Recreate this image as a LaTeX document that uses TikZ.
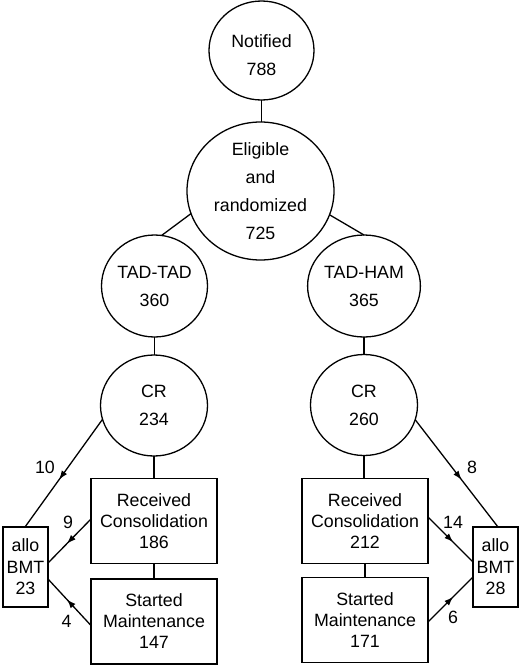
\documentclass[tikz,border=0pt]{standalone}
\usepackage{fontspec}
\setmainfont{Liberation Sans}
\usetikzlibrary{arrows.meta,decorations.markings,calc,shapes.geometric}
\tikzset{
  circ/.style={draw, ellipse, inner sep=0pt, outer sep=0pt, line width=1.3pt, align=center,
    font=\fontsize{17.8pt}{28pt}\selectfont},
  boxn/.style={draw, rectangle, inner sep=0pt, outer sep=0pt, line width=1.3pt, align=center,
    minimum width=126pt, minimum height=85pt, font=\fontsize{17.8pt}{21pt}\selectfont},
  allobox/.style={draw, rectangle, inner sep=0pt, outer sep=0pt, line width=1.3pt, align=center,
    minimum width=45pt, minimum height=80pt, font=\fontsize{17.8pt}{21.5pt}\selectfont},
  conn/.style={line width=1.3pt},
  midarrow/.style={line width=1.3pt, postaction={decorate},
    decoration={markings, mark=at position #1 with {\arrow{Latex[length=9pt,width=6.5pt]}}}},
  midarrow/.default=0.56,
  lbl/.style={inner sep=0pt, font=\fontsize{17.8pt}{21pt}\selectfont}
}
\begin{document}
\begin{tikzpicture}[x=1pt,y=-1pt]
\useasboundingbox (0,0) rectangle (520,665);
% circles
\node[circ, minimum width=105pt, minimum height=99pt] (not) at (261.5,50.5)
  {\raisebox{-5pt}[\height][\depth]{\begin{tabular}{@{}c@{}}Notified\\788\end{tabular}}};
\node[circ, minimum width=147pt, minimum height=138pt] (eli) at (260.5,191) {Eligible\\and\\randomized\\725};
\node[circ, minimum width=106pt, minimum height=102pt] (tt) at (154.5,286) {TAD-TAD\\360};
\node[circ, minimum width=107pt, minimum height=102pt] (th) at (364,286) {TAD-HAM\\365};
\node[circ, minimum width=107pt, minimum height=101pt] (crl) at (154,405.5) {CR\\234};
\node[circ, minimum width=107pt, minimum height=101pt] (crr) at (364,405) {CR\\260};
% boxes
\node[boxn] (rcl) at (154,521) {Received\\Consolidation\\186};
\node[boxn] (stl) at (154,621.5) {Started\\Maintenance\\147};
\node[boxn] (rcr) at (365,521) {Received\\Consolidation\\212};
\node[boxn] (str) at (365,620) {Started\\Maintenance\\171};
\node[allobox] (al) at (25.5,567) {allo\\BMT\\23};
\node[allobox] (ar) at (495.5,567) {allo\\BMT\\28};
% connectors
\draw[conn] (not.south) -- (not.south |- eli.north);
\draw[conn] (eli.198) -- (tt.82);
\draw[conn] (eli.341) -- (th.90);
\draw[conn] (tt.south) -- (tt.south |- crl.north);
\draw[conn] (th.south) -- (th.south |- crr.north);
\draw[conn] (crl.south) -- (crl.south |- rcl.north);
\draw[conn] (rcl.south) -- (rcl.south |- stl.north);
\draw[conn] (crr.south) -- (crr.south |- rcr.north);
\draw[conn] (rcr.south) -- (rcr.south |- str.north);
% arrows to allo BMT
\draw[midarrow] (crl.195) -- ($(al.north)+(-0.5,0)$);
\draw[midarrow] ($(rcl.west)+(0,-2)$) -- ($(al.east)+(0,-4)$);
\draw[midarrow] ($(stl.west)+(0,4)$) -- ($(al.east)+(0,12)$);
\draw[midarrow] (crr.344) -- ($(ar.north)+(2.5,0)$);
\draw[midarrow] ($(rcr.east)+(0,-4)$) -- ($(ar.west)+(0,-5)$);
\draw[midarrow] ($(str.east)+(0,2)$) -- ($(ar.west)+(0,10)$);
% labels
\node[lbl] (l10) at (45,467.5) {10};
\node[lbl] (l9) at (68,522) {9};
\node[lbl] (l4) at (66.5,621) {4};
\node[lbl] (l8) at (472,467) {8};
\node[lbl] (l14) at (453,522) {14};
\node[lbl] (l6) at (453,617) {6};
\end{tikzpicture}
\end{document}
